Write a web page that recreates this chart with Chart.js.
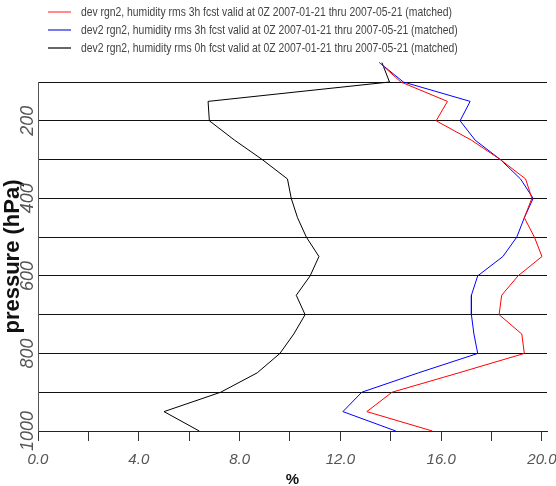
<!DOCTYPE html>
<html>
<head>
<meta charset="utf-8">
<script src="https://cdn.jsdelivr.net/npm/chart.js@4.4.1/dist/chart.umd.min.js"></script>
<style>
  html, body { margin: 0; padding: 0; background: #fff; }
</style>
</head>
<body>
<canvas id="myChart" width="556" height="486"></canvas>
<script>
//Pressure levels (hPa)
var levels = [50, 100, 150, 200, 250, 300, 350, 400, 450, 500, 550, 600, 650, 700, 750, 800, 850, 900, 950, 1000];

//Humidity rms (%) per level
var dev3h   = [13.55, 14.4, 16.25, 15.8, 17.2, 18.35, 19.35, 19.6, 19.3, 19.7, 20.0, 19.05, 18.4, 18.3, 19.2, 19.3, 16.7, 14.05, 13.05, 15.65];
var dev2_3h = [13.55, 14.5, 17.15, 16.75, 17.35, 18.35, 19.15, 19.65, 19.3, 19.0, 18.45, 17.45, 17.2, 17.2, 17.3, 17.45, 15.1, 12.85, 12.1, 14.2];
var dev2_0h = [13.65, 13.95, 6.75, 6.8, 7.8, 8.9, 9.9, 10.05, 10.3, 10.65, 11.15, 10.8, 10.25, 10.6, 10.15, 9.6, 8.7, 7.25, 5.0, 6.4];

var seriesLabels = [
  "dev rgn2, humidity rms 3h fcst valid at 0Z 2007-01-21 thru 2007-05-21 (matched)",
  "dev2 rgn2, humidity rms 3h fcst valid at 0Z 2007-01-21 thru 2007-05-21 (matched)",
  "dev2 rgn2, humidity rms 0h fcst valid at 0Z 2007-01-21 thru 2007-05-21 (matched)"
];
var seriesColors = ["#ff0000", "#0000ff", "#000000"];
var legendColors = ["#ff4040", "#2020e0", "#666666"];

//Tick values
var xTicks = [0, 2, 4, 6, 8, 10, 12, 14, 16, 18, 20];
var yTicks = [100, 200, 300, 400, 500, 600, 700, 800, 900, 1000];

var sans = '"Liberation Sans", Arial, sans-serif';

function toPoints(vals) {
  var pts = [];
  for (var i = 0; i < levels.length; i++) {
    pts.push({x: vals[i], y: levels[i]});
  }
  return pts;
}

function makeDataset(i, vals) {
  return {
    label: seriesLabels[i],
    data: toPoints(vals),
    borderColor: seriesColors[i],
    backgroundColor: seriesColors[i],
    borderWidth: 1,
    pointRadius: 0,
    tension: 0,
    clip: false
  };
}

//Legend drawn above the plot, text squeezed a bit like the original
var topLegend = {
  id: 'topLegend',
  afterDraw: function(chart) {
    var c = chart.ctx;
    c.save();
    c.font = '13px ' + sans;
    c.textBaseline = 'middle';
    c.textAlign = 'left';
    var squeeze = 371 / c.measureText(seriesLabels[0]).width;
    for (var i = 0; i < seriesLabels.length; i++) {
      var y = 12 + i * 18;
      c.strokeStyle = legendColors[i];
      c.lineWidth = (i === 2) ? 2 : 1.2;
      c.beginPath();
      c.moveTo(48, y);
      c.lineTo(71, y);
      c.stroke();
      c.save();
      c.translate(81, y);
      c.scale(squeeze, 1);
      c.fillStyle = '#444';
      c.fillText(seriesLabels[i], 0, 0);
      c.restore();
    }
    c.restore();
  }
};

var ctx = document.getElementById('myChart').getContext('2d');

var myChart = new Chart(ctx, {
  type: 'line',
  data: {
    datasets: [
      makeDataset(0, dev3h),
      makeDataset(1, dev2_3h),
      makeDataset(2, dev2_0h)
    ]
  },
  options: {
    responsive: false,
    animation: false,
    devicePixelRatio: 1,
    indexAxis: 'y',
    layout: { padding: { top: 82, right: 9, left: 0, bottom: 0 } },
    plugins: {
      legend: { display: false },
      tooltip: { enabled: false }
    },
    scales: {
      x: {
        type: 'linear',
        position: 'bottom',
        min: 0,
        max: 20.2,
        afterBuildTicks: function(scale) {
          scale.ticks = xTicks.map(function(v) { return {value: v}; });
        },
        afterFit: function(scale) {
          scale.height = 55;
          scale.paddingLeft = 0;
          scale.paddingRight = 0;
        },
        grid: { drawOnChartArea: false, drawTicks: true, tickLength: 10, color: '#333', lineWidth: 1 },
        border: { display: true, color: '#222', width: 1 },
        ticks: {
          autoSkip: false,
          maxRotation: 0,
          minRotation: 0,
          padding: 10,
          color: '#555',
          font: { family: sans, size: 15, style: 'italic' },
          callback: function(v) { return (v % 4 === 0) ? v.toFixed(1) : ''; }
        },
        title: {
          display: true,
          text: '%',
          color: '#111',
          padding: { top: 0, bottom: -3 },
          font: { family: sans, size: 15, weight: 'bold' }
        }
      },
      y: {
        type: 'linear',
        position: 'left',
        reverse: true,
        min: 100,
        max: 1000,
        afterBuildTicks: function(scale) {
          scale.ticks = yTicks.map(function(v) { return {value: v}; });
        },
        afterFit: function(scale) {
          scale.width = 38;
          scale.paddingTop = 0;
          scale.paddingBottom = 0;
        },
        grid: { drawTicks: false, color: '#111', lineWidth: 1 },
        border: { display: true, color: '#555', width: 1 },
        ticks: {
          autoSkip: false,
          minRotation: 90,
          maxRotation: 90,
          crossAlign: 'center',
          padding: -10,
          color: '#555',
          font: { family: sans, size: 18, style: 'italic' },
          callback: function(v) { return (v % 200 === 0) ? String(v) : ''; }
        },
        title: {
          display: true,
          text: 'pressure (hPa)',
          color: '#111',
          padding: 0,
          font: { family: sans, size: 22, weight: 'bold' }
        }
      }
    }
  },
  plugins: [topLegend]
});
</script>
</body>
</html>
